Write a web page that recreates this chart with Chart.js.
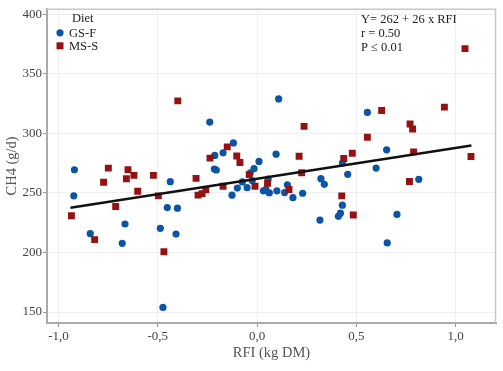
<!DOCTYPE html>
<html>
<head>
<meta charset="utf-8">
<title>CH4 vs RFI</title>
<script src="https://cdn.jsdelivr.net/npm/chart.js@4.4.0/dist/chart.umd.min.js"></script>
<style>
	body { margin: 0; background: #fff; }
	#wrap { width: 503px; height: 371px; }
</style>
</head>
<body>
<div id="wrap"><canvas id="myChart" width="503" height="371"></canvas></div>
<script>
// GS-F diet (blue circles)
var gsfRfi = [-0.92, -0.923, -0.84, -0.679, -0.665, -0.487, -0.474, -0.452, -0.437, -0.408, -0.401,
	-0.238, -0.213, -0.215, -0.205, -0.171, -0.119, -0.126, -0.099, -0.074, -0.05, -0.034, -0.015, -0.024,
	0.01, 0.096, 0.109, 0.032, 0.045, 0.056, 0.062, 0.1, 0.139, 0.153, 0.181, 0.23, 0.317, 0.322, 0.339,
	0.41, 0.42, 0.43, 0.43, 0.457, 0.556, 0.6, 0.653, 0.656, 0.705, 0.815];
var gsfCh4 = [269.4, 247.5, 215.8, 207.7, 223.9, 220.3, 153.9, 237.7, 259.4, 215.4, 237.2,
	309.4, 281.4, 270, 269.2, 283.6, 291.9, 248.1, 254, 259.2, 254.4, 266.9, 270.3, 260.3,
	276.4, 282.5, 328.9, 251.7, 253, 261.5, 250, 251.7, 250.3, 256.8, 246, 249.7, 227.2, 261.9, 257.2,
	230.3, 233, 239.7, 275, 265.6, 317.5, 270.8, 286.1, 208, 231.9, 261.4];

// MS-S diet (red squares)
var mssRfi = [-0.935, -0.818, -0.773, -0.749, -0.712, -0.658, -0.65, -0.62, -0.601, -0.522, -0.497,
	-0.469, -0.399, -0.307, -0.297, -0.277, -0.258, -0.237, -0.171, -0.15, -0.102, -0.086, -0.039, -0.01,
	0.053, 0.161, 0.212, 0.225, 0.237, 0.427, 0.437, 0.48, 0.485, 0.556, 0.628, 0.768, 0.771, 0.784,
	0.789, 0.944, 1.048, 1.078];
var mssCh4 = [230.8, 210.8, 258.9, 270.8, 238.6, 261.9, 269.4, 264.7, 251.4, 264.7, 247.5,
	200.6, 327.2, 262.2, 248.1, 249.4, 252.5, 279.2, 255.6, 288.6, 280.9, 275.5, 265.3, 255.6,
	258, 252.8, 280.8, 266.9, 305.8, 247.5, 278.9, 283.3, 231.4, 296.7, 319.2, 259.5, 307.8, 303.6,
	284.4, 322, 371.1, 280.6];

// regression line ends
var fitRfi = [-0.94, 1.08];
var fitCh4 = [237.5, 289.8];

var xTicks = [-1.0, -0.5, 0, 0.5, 1.0];
var yTicks = [150, 200, 250, 300, 350, 400];
var statsText = ['Y= 262 + 26 x RFI', 'r = 0.50', 'P \u2264 0.01'];
var legendTitle = 'Diet';

var serif = '"Liberation Serif", "Times New Roman", serif';

function toPoints(xs, ys) {
	var pts = [];
	for (var i = 0; i < xs.length; i++) {
		pts.push({x: xs[i], y: ys[i]});
	}
	return pts;
}

// top and right edges of the panel
var framePlugin = {
	id: 'frame',
	beforeDatasetsDraw: function (chart) {
		var a = chart.chartArea, ctx = chart.ctx;
		ctx.save();
		ctx.strokeStyle = '#c8c8c8';
		ctx.lineWidth = 1.5;
		ctx.beginPath();
		ctx.moveTo(a.left, a.top + 0.5);
		ctx.lineTo(a.right - 0.5, a.top + 0.5);
		ctx.lineTo(a.right - 0.5, a.bottom);
		ctx.stroke();
		ctx.restore();
	}
};

var legendPlugin = {
	id: 'dietLegend',
	afterDraw: function (chart) {
		var ctx = chart.ctx;
		var a = chart.chartArea;
		ctx.save();
		ctx.font = '12.5px ' + serif;
		ctx.fillStyle = '#222';
		ctx.textBaseline = 'middle';
		ctx.fillText(legendTitle, a.left + 25, a.top + 10);
		var row = 0;
		chart.data.datasets.forEach(function (ds) {
			if (ds.type === 'line') return;
			var cy = a.top + 24 + row * 13;
			var cx = a.left + 13;
			ctx.fillStyle = ds.backgroundColor;
			if (ds.pointStyle === 'rect') {
				ctx.fillRect(cx - 3.5, cy - 3.5, 7, 7);
			} else {
				ctx.beginPath();
				ctx.arc(cx, cy, 3.6, 0, Math.PI * 2);
				ctx.fill();
			}
			ctx.fillStyle = '#222';
			ctx.fillText(ds.label, cx + 9, cy + 0.5);
			row++;
		});
		// stats box
		ctx.textBaseline = 'alphabetic';
		for (var i = 0; i < statsText.length; i++) {
			ctx.fillText(statsText[i], 361, 23 + i * 14);
		}
		ctx.restore();
	}
};

window.myChart = new Chart(document.getElementById('myChart').getContext('2d'), {
	type: 'scatter',
	data: {
		datasets: [
			{
				type: 'line',
				label: 'fit',
				data: toPoints(fitRfi, fitCh4),
				borderColor: '#111',
				borderWidth: 2.4,
				pointRadius: 0,
				fill: false,
				order: 0
			},
			{
				label: 'GS-F',
				data: toPoints(gsfRfi, gsfCh4),
				backgroundColor: 'rgb(12,84,165)',
				borderColor: 'rgb(12,84,165)',
				borderWidth: 0,
				pointStyle: 'circle',
				pointRadius: 3.6,
				order: 2
			},
			{
				label: 'MS-S',
				data: toPoints(mssRfi, mssCh4),
				backgroundColor: 'rgb(150,18,18)',
				borderColor: 'rgb(150,18,18)',
				borderWidth: 0,
				pointStyle: 'rect',
				pointRadius: 4.9,
				order: 1
			}
		]
	},
	options: {
		responsive: false,
		animation: false,
		layout: {padding: {top: 7, right: 7, left: 0, bottom: 0}},
		plugins: {
			legend: {display: false},
			tooltip: {enabled: false}
		},
		scales: {
			x: {
				type: 'linear',
				min: -1.058,
				max: 1.204,
				afterBuildTicks: function (scale) {
					scale.ticks = xTicks.map(function (v) { return {value: v}; });
				},
				afterFit: function (scale) { scale.height = 48; },
				grid: {color: '#efefef', tickColor: '#999', tickLength: 4},
				border: {display: true, color: '#aaa', width: 2},
				ticks: {
					color: '#444',
					padding: 2,
					font: {family: serif, size: 13},
					callback: function (v) { return v.toFixed(1).replace('.', ','); }
				},
				title: {
					display: true,
					text: 'RFI (kg DM)',
					color: '#555',
					font: {family: serif, size: 14.5},
					padding: {top: 0, bottom: 9}
				}
			},
			y: {
				type: 'linear',
				min: 140.8,
				max: 404.5,
				afterBuildTicks: function (scale) {
					scale.ticks = yTicks.map(function (v) { return {value: v}; });
				},
				afterFit: function (scale) { scale.width = 47; },
				grid: {color: '#efefef', tickColor: '#999', tickLength: 4},
				border: {display: true, color: '#aaa', width: 2},
				ticks: {
					color: '#444',
					padding: 1,
					font: {family: serif, size: 13}
				},
				title: {
					display: true,
					text: 'CH4 (g/d)',
					color: '#555',
					font: {family: serif, size: 14.5},
					padding: {top: 3, bottom: 0}
				}
			}
		}
	},
	plugins: [framePlugin, legendPlugin]
});
</script>
</body>
</html>
